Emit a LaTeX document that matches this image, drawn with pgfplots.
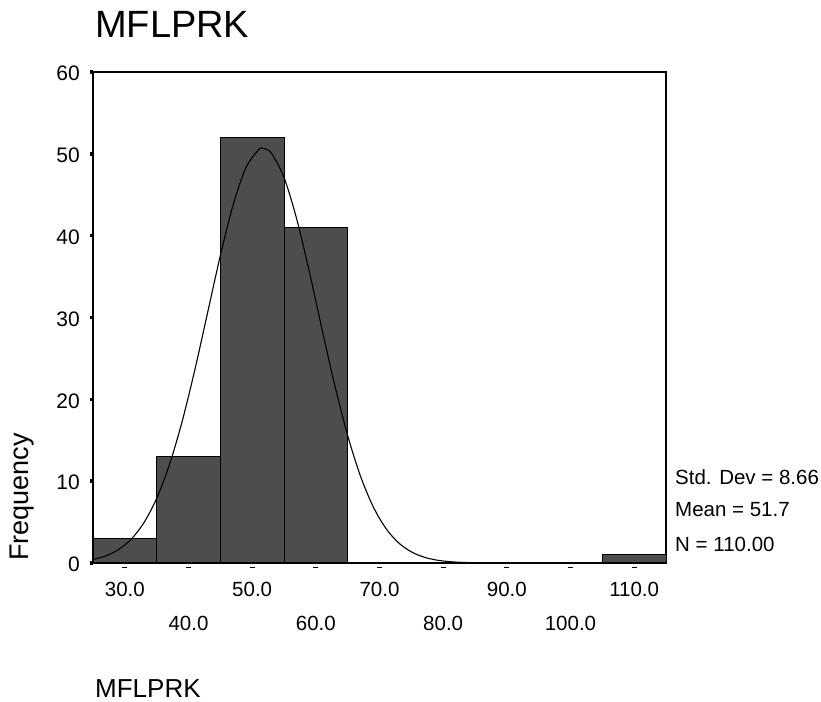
\documentclass[border=0pt]{standalone}
\usepackage{fontspec}
\setmainfont{Liberation Sans}
\usepackage{pgfplots}
\pgfplotsset{compat=1.18}
\definecolor{barfill}{RGB}{77,77,77}
\begin{document}
\begin{tikzpicture}[x=1pt,y=1pt]
\path[use as bounding box] (0,0) rectangle (821,701);
\begin{axis}[
  at={(93pt,138pt)}, anchor=south west,
  scale only axis, width=573pt, height=491pt,
  xmin=25, xmax=115, ymin=0, ymax=60,
  axis line style={line width=1.3pt},
  clip=false,
  /pgf/number format/assume math mode=true,
  xtick={30,50,70,90,110},
  xticklabels={30.0,50.0,70.0,90.0,110.0},
  extra x ticks={40,60,80,100},
  extra x tick labels={40.0,60.0,80.0,100.0},
  xtick style={draw=none},
  extra x tick style={xtick style={draw=none}, xticklabel style={yshift=-34pt}},
  xticklabel style={font=\fontsize{20.5}{23}\selectfont, anchor=base, yshift=-30pt},
  ytick={0,10,20,30,40,50,60},
  ytick pos=left,
  tick align=outside,
  major tick length=3pt,
  ytick style={line width=3.5pt, black},
  yticklabel style={font=\fontsize{21}{24}\selectfont, anchor=east, inner sep=0pt, xshift=-10pt, yshift=-1.5pt},
]
\addplot[ybar interval, fill=barfill, draw=black, line width=1pt] coordinates {
  (25,3) (35,13) (45,52) (55,41) (65,0) (75,0) (85,0) (95,0) (105,1) (115,1)
};
\addplot[black, line width=1.1pt, smooth] coordinates {
  (25,0.437) (27,0.868) (29,1.633) (31,2.911) (33,4.923) (35,7.892) (37,12.00)
  (39,17.29) (41,23.62) (43,30.59) (45,37.56) (47,43.73) (49,48.27) (51,50.50)
  (51.7,50.67) (53,50.10) (55,47.12) (57,42.02) (59,35.52) (61,28.47) (63,21.63)
  (65,15.58) (67,10.64) (69,6.890) (71,4.229) (73,2.461) (75,1.358) (77,0.710)
  (79,0.352) (81,0.166) (83,0.074) (85,0.031)
};
\addplot[only marks, mark=-, mark size=2.5pt, black, line width=0.9pt] coordinates {
  (30,-0.5) (40,-0.5) (50,-0.5) (60,-0.5) (70,-0.5) (80,-0.5) (90,-0.5) (100,-0.5) (110,-0.5)
};
\end{axis}
\node[anchor=base west, inner sep=0pt, font=\fontsize{38}{42}\selectfont] at (95,663) {MFLPRK};
\node[anchor=base west, inner sep=0pt, font=\fontsize{26}{30}\selectfont] at (95,4) {MFLPRK};
\node[rotate=90, inner sep=0pt, font=\fontsize{27}{30}\selectfont] at (22,204) {Frequency};
\node[anchor=base west, inner sep=0pt, font=\fontsize{20.5}{24}\selectfont] at (675,216) {Std. Dev = 8.66};
\node[anchor=base west, inner sep=0pt, font=\fontsize{20.5}{24}\selectfont] at (675,184.3) {Mean = 51.7};
\node[anchor=base west, inner sep=0pt, font=\fontsize{20.5}{24}\selectfont] at (675,149.3) {N = 110.00};
\end{tikzpicture}
\end{document}
